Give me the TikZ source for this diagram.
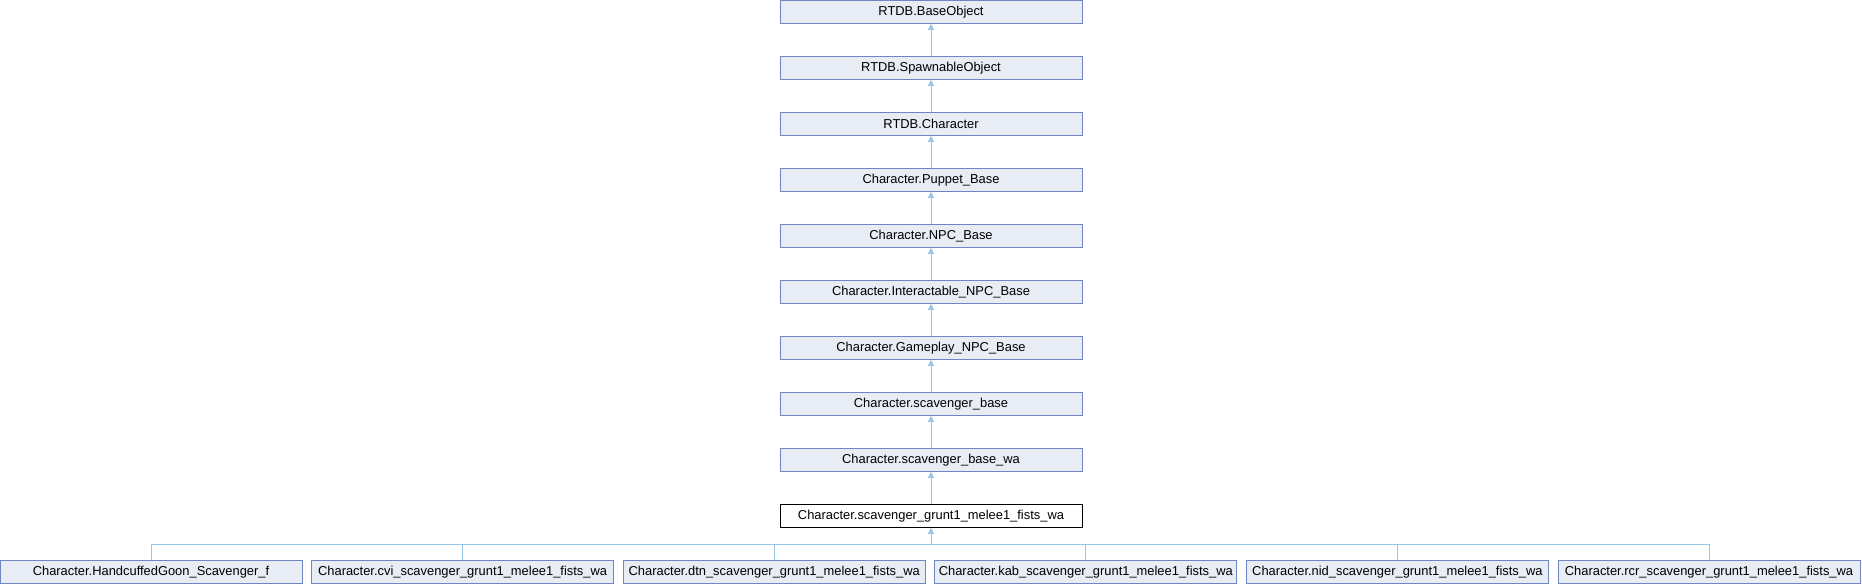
\documentclass[tikz,border=0pt]{standalone}
\usepackage{fontspec}
\setmainfont{Liberation Sans}
\usetikzlibrary{arrows.meta}
\definecolor{boxfill}{RGB}{232,236,245}
\definecolor{boxdraw}{RGB}{112,134,196}
\definecolor{edgecol}{RGB}{150,200,232}
\tikzset{
  cls/.style={draw=boxdraw, fill=boxfill, line width=1pt, minimum width=302pt, minimum height=23pt, inner sep=0pt, font=\fontsize{12.9}{14}\selectfont},
  curcls/.style={cls, draw=black, fill=white},
  edge/.style={draw=edgecol, line width=1pt, -{Triangle[length=6pt,width=6pt]}},
  edgeline/.style={draw=edgecol, line width=1pt}
}
\begin{document}
\begin{tikzpicture}[x=1pt,y=1pt]
\useasboundingbox (0,0) rectangle (1862,-584);
\node[cls] (c0) at (931,-11.8) {RTDB.BaseObject};
\node[cls] (c1) at (931,-67.8) {RTDB.SpawnableObject};
\node[cls] (c2) at (931,-123.8) {RTDB.Character};
\node[cls] (c3) at (931,-179.8) {Character.Puppet\_Base};
\node[cls] (c4) at (931,-235.8) {Character.NPC\_Base};
\node[cls] (c5) at (931,-291.8) {Character.Interactable\_NPC\_Base};
\node[cls] (c6) at (931,-347.8) {Character.Gameplay\_NPC\_Base};
\node[cls] (c7) at (931,-403.8) {Character.scavenger\_base};
\node[cls] (c8) at (931,-459.8) {Character.scavenger\_base\_wa};
\node[curcls] (c9) at (931,-515.8) {Character.scavenger\_grunt1\_melee1\_fists\_wa};
\node[cls] (b0) at (151,-571.7) {Character.HandcuffedGoon\_Scavenger\_f};
\node[cls] (b1) at (462.6,-571.7) {Character.cvi\_scavenger\_grunt1\_melee1\_fists\_wa};
\node[cls] (b2) at (774.2,-571.7) {Character.dtn\_scavenger\_grunt1\_melee1\_fists\_wa};
\node[cls] (b3) at (1085.8,-571.7) {Character.kab\_scavenger\_grunt1\_melee1\_fists\_wa};
\node[cls] (b4) at (1397.4,-571.7) {Character.nid\_scavenger\_grunt1\_melee1\_fists\_wa};
\node[cls] (b5) at (1709,-571.7) {Character.rcr\_scavenger\_grunt1\_melee1\_fists\_wa};
\coordinate (j) at (931,-544.3);
\draw[edge] (c1.north) -- (c0.south);
\draw[edge] (c2.north) -- (c1.south);
\draw[edge] (c3.north) -- (c2.south);
\draw[edge] (c4.north) -- (c3.south);
\draw[edge] (c5.north) -- (c4.south);
\draw[edge] (c6.north) -- (c5.south);
\draw[edge] (c7.north) -- (c6.south);
\draw[edge] (c8.north) -- (c7.south);
\draw[edge] (c9.north) -- (c8.south);
\draw[edge] (j) -- (c9.south);
\draw[edgeline] (b0.north) |- (j);
\draw[edgeline] (b5.north) |- (j);
\draw[edgeline] (b1.north) -- (b1.north |- j);
\draw[edgeline] (b2.north) -- (b2.north |- j);
\draw[edgeline] (b3.north) -- (b3.north |- j);
\draw[edgeline] (b4.north) -- (b4.north |- j);
\end{tikzpicture}
\end{document}
